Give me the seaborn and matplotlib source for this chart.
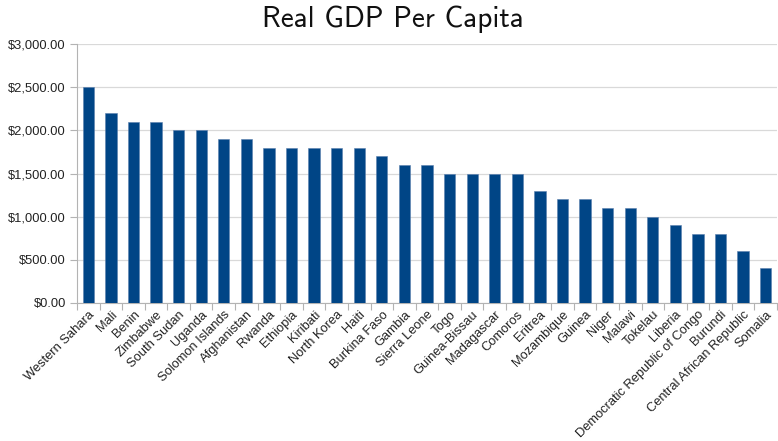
import matplotlib
matplotlib.use("Agg")
import matplotlib.pyplot as plt
import seaborn as sns
import pandas as pd
import numpy as np
from matplotlib.ticker import FuncFormatter, FixedLocator

countries = ["Western Sahara", "Mali", "Benin", "Zimbabwe", "South Sudan", "Uganda",
             "Solomon Islands", "Afghanistan", "Rwanda", "Ethiopia", "Kiribati",
             "North Korea", "Haiti", "Burkina Faso", "Gambia", "Sierra Leone", "Togo",
             "Guinea-Bissau", "Madagascar", "Comoros", "Eritrea", "Mozambique", "Guinea",
             "Niger", "Malawi", "Tokelau", "Liberia", "Democratic Republic of Congo",
             "Burundi", "Central African Republic", "Somalia"]
gdp = [2500, 2200, 2100, 2100, 2000, 2000, 1900, 1900, 1800, 1800, 1800, 1800, 1800,
       1700, 1600, 1600, 1500, 1500, 1500, 1500, 1300, 1200, 1200, 1100, 1100, 1000,
       900, 800, 800, 600, 400]
yticks = [0, 500, 1000, 1500, 2000, 2500, 3000]

df = pd.DataFrame({"country": countries, "gdp": gdp})

sns.set_theme(style="white")
plt.rcParams['font.family'] = ['Liberation Sans', 'DejaVu Sans']

fig = plt.figure(figsize=(7.78, 4.41), dpi=100)
ax = fig.add_axes([77/778, 1-303/441, 700/778, 259/441])

sns.barplot(data=df, x="country", y="gdp", color="#004586", width=0.5,
            saturation=1, ax=ax, edgecolor="#5a7fae", linewidth=0.4, zorder=3)

n = len(countries)
ax.set_xlim(-0.5, n - 0.5)
ax.set_ylim(0, 3000)
ax.set_yticks(yticks)
ax.yaxis.set_major_formatter(FuncFormatter(lambda v, p: f"${v:,.2f}"))
ax.grid(axis="y", color="#d9d9d9", linewidth=0.9, zorder=0)
ax.set_axisbelow(True)

ax.set_xlabel("")
ax.set_ylabel("")
ax.set_xticks(range(n))
ax.set_xticklabels(countries, rotation=45, ha="right", rotation_mode="anchor",
                   fontsize=9.3, color="#222222")
ax.tick_params(axis="x", which="major", length=0, pad=4)
ax.xaxis.set_minor_locator(FixedLocator(np.arange(-0.5, n, 1.0)))
ax.tick_params(axis="x", which="minor", length=5, color="#b3b3b3", width=0.8,
               bottom=True, direction="out")
ax.tick_params(axis="y", which="major", length=5, color="#b3b3b3", width=0.8,
               labelsize=9.3, labelcolor="#222222", left=True, direction="out", pad=3)

for s in ["top", "right"]:
    ax.spines[s].set_visible(False)
for s in ["left", "bottom"]:
    ax.spines[s].set_color("#b3b3b3")
    ax.spines[s].set_linewidth(0.8)

fig.text(393/778, 1-19/441, "Real GDP Per Capita", ha="center", va="center",
         fontsize=21, family=["cmss10", "DejaVu Sans"], color="#111111")

fig.savefig("out.png", dpi=100)
